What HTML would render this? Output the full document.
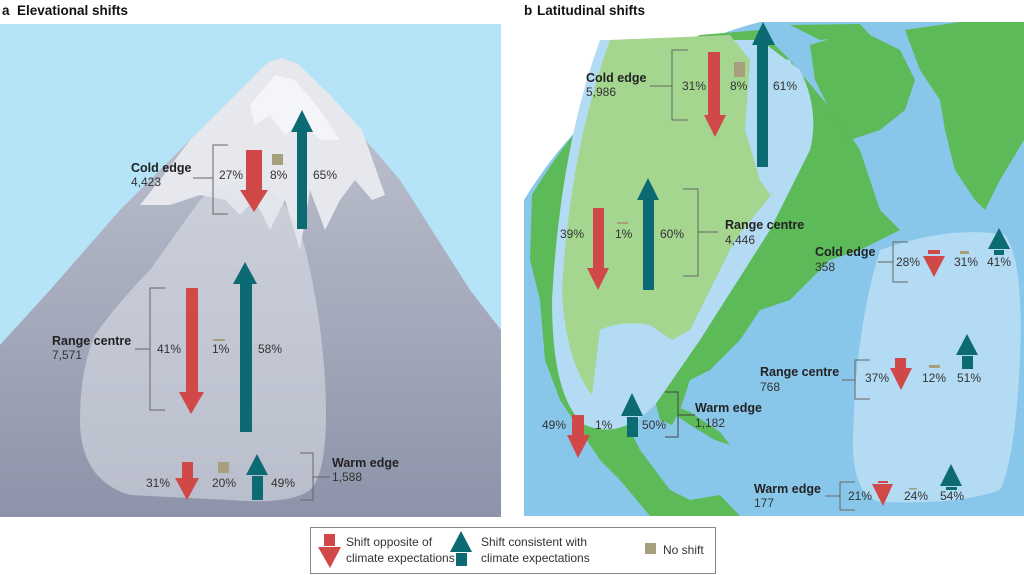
<!DOCTYPE html>
<html><head><meta charset="utf-8"><style>
html,body{margin:0;padding:0;background:#fff;width:1024px;height:575px;overflow:hidden}
svg{display:block}
text{font-family:"Liberation Sans",sans-serif;font-size:12px;fill:#333}
.b{font-weight:bold;fill:#222;font-size:12.5px}
.h{font-weight:bold;font-size:13.5px;fill:#111}
</style></head><body>
<svg width="1024" height="575" viewBox="0 0 1024 575" xmlns="http://www.w3.org/2000/svg">
<defs>
<linearGradient id="mg" x1="0" y1="0" x2="0" y2="1">
<stop offset="0" stop-color="#c2c6d2"/><stop offset="1" stop-color="#8d93a9"/></linearGradient>
<clipPath id="rc"><rect x="524" y="22" width="500" height="494"/></clipPath>
</defs>
<!-- Left panel -->
<text x="2" y="15" class="h">a</text><text x="17" y="15" class="h">Elevational shifts</text>
<rect x="0" y="24" width="501" height="493" fill="#b5e3f7"/>
<path d="M0,345 L50,290 L120,210 L190,140 L235,95 L268,62 L282,58 L298,64 L340,110 L400,180 L470,290 L501,330 L501,517 L0,517 Z" fill="url(#mg)"/>
<path d="M268,62 L282,58 L298,64 L330,95 L362,130 L385,195 L372,200 L355,180 L340,200 L325,230 L310,190 L300,250 L285,200 L270,230 L255,200 L240,215 L225,200 L200,195 L170,205 L140,205 L160,180 L190,140 L235,95 Z" fill="#e6e8ee"/>
<path d="M275,75 L295,80 L320,110 L340,140 L320,140 L300,120 L285,135 L270,115 L255,125 L250,105 Z" fill="#f4f5f8"/>
<path d="M95,335 Q120,300 150,270 L200,200 Q260,150 300,230 Q320,300 325,380 Q330,470 310,490 Q290,505 230,500 L130,495 Q80,480 80,420 Q80,370 95,335 Z" fill="#dfe2ea" opacity="0.55"/>
<!-- cold edge a -->
<text x="131" y="172" class="b">Cold edge</text><text x="131" y="186">4,423</text>
<path d="M193,178 H213 M228,145 H213 V214 H228" stroke="#666" fill="none"/>
<text x="219" y="179">27%</text>
<rect x="246" y="150" width="16" height="40" fill="#d04848"/><path d="M240,190 H268 L254,212 Z" fill="#d04848"/>
<rect x="272" y="154" width="11" height="11" fill="#a89f7e"/><text x="270" y="179">8%</text>
<path d="M291,132 L302,110 L313,132 Z" fill="#0c6a72"/><rect x="297" y="132" width="10" height="97" fill="#0c6a72"/>
<text x="313" y="179">65%</text>
<!-- range centre a -->
<text x="52" y="345" class="b">Range centre</text><text x="52" y="359">7,571</text>
<path d="M135,349 H150 M165,288 H150 V410 H165" stroke="#666" fill="none"/>
<text x="157" y="353">41%</text>
<rect x="186" y="288" width="12" height="104" fill="#d04848"/><path d="M179,392 H204 L191,414 Z" fill="#d04848"/>
<rect x="213" y="339" width="12" height="2" fill="#a89f7e"/><text x="212" y="353">1%</text>
<path d="M233,284 L245,262 L257,284 Z" fill="#0c6a72"/><rect x="240" y="284" width="12" height="148" fill="#0c6a72"/>
<text x="258" y="353">58%</text>
<!-- warm edge a -->
<rect x="182" y="462" width="11" height="16" fill="#d04848"/><path d="M175,478 H199 L187,500 Z" fill="#d04848"/>
<text x="146" y="487">31%</text>
<rect x="218" y="462" width="11" height="11" fill="#a89f7e"/><text x="212" y="487">20%</text>
<path d="M246,475 L257,454 L268,475 Z" fill="#0c6a72"/><rect x="252" y="476" width="11" height="24" fill="#0c6a72"/>
<text x="271" y="487">49%</text>
<path d="M300,453 H313 V500 H300 M313,477 H330" stroke="#666" fill="none"/>
<text x="332" y="467" class="b">Warm edge</text><text x="332" y="481">1,588</text>

<!-- Right panel -->
<text x="524" y="15" class="h">b</text><text x="537" y="15" class="h">Latitudinal shifts</text>
<g clip-path="url(#rc)">
<path d="M524,200 Q610,60 760,22 L1024,22 L1024,516 L524,516 Z" fill="#88c6ea"/>
<!-- North America -->
<path d="M532,195 Q600,80 700,35 L760,30 L790,60 L840,120 L860,150 L880,210 L900,230 L880,240 L860,250 L830,260 L790,300 L760,310 L740,340 L710,370 L690,380 L680,410 L672,425 L660,420 L655,400 L640,395 L625,405 L630,430 L640,450 L655,470 L670,490 L690,500 L700,516 L650,516 L620,480 L600,460 L580,430 L560,400 L545,360 L540,300 L530,260 Z" fill="#5cba58"/>
<path d="M810,45 L860,30 L900,50 L915,80 L905,110 L880,130 L850,140 L830,110 L815,80 Z" fill="#5cba58"/>
<path d="M790,25 L860,24 L870,35 L820,40 Z" fill="#5cba58"/>
<path d="M905,30 L960,22 L1024,22 L1024,140 L1000,180 L985,210 L975,200 L955,170 L945,130 L940,100 L920,70 Z" fill="#5cba58"/>
<path d="M665,402 L690,412 L720,432 L730,445 L715,440 L690,425 L668,410 Z" fill="#5cba58"/>
<path d="M660,516 L690,500 L720,495 L740,516 Z" fill="#5cba58"/>
<path d="M600,40 Q560,150 552,300 Q552,400 585,425 Q620,440 655,405 L700,340 L770,230 L810,150 Q820,110 800,70 L760,40 Z" fill="#b3dbf3"/>
<path d="M610,40 Q570,150 562,290 Q565,360 592,395 L600,330 Q620,320 650,325 L672,340 L690,330 L735,240 L775,190 L760,180 L745,130 L750,60 L730,35 Z" fill="#a4d690"/>
<path d="M760,55 L790,60 L810,110 L805,160 L770,195 L760,180 L752,110 Z" fill="#b3dbf3"/>
<path d="M880,250 Q950,225 1005,235 Q1024,260 1020,360 Q1015,460 1000,490 Q960,505 880,502 Q852,495 853,440 Q855,330 880,250 Z" fill="#b3dbf3"/>
</g>
<!-- cold edge b -->
<text x="586" y="82" class="b">Cold edge</text><text x="586" y="96">5,986</text>
<path d="M650,86 H672 M688,50 H672 V120 H688" stroke="#666" fill="none"/>
<text x="682" y="90">31%</text>
<rect x="708" y="52" width="12" height="63" fill="#d04848"/><path d="M704,115 H726 L715,137 Z" fill="#d04848"/>
<rect x="734" y="62" width="11" height="15" fill="#a89f7e"/><text x="730" y="90">8%</text>
<path d="M752,45 L763,22 L775,45 Z" fill="#0c6a72"/><rect x="757" y="45" width="11" height="122" fill="#0c6a72"/>
<text x="773" y="90">61%</text>
<!-- range centre b -->
<text x="560" y="238">39%</text>
<rect x="593" y="208" width="11" height="60" fill="#d04848"/><path d="M587,268 H609 L598,290 Z" fill="#d04848"/>
<rect x="617" y="222" width="11" height="2" fill="#a89f7e"/><text x="615" y="238">1%</text>
<path d="M637,200 L648,178 L659,200 Z" fill="#0c6a72"/><rect x="643" y="200" width="11" height="90" fill="#0c6a72"/>
<text x="660" y="238">60%</text>
<path d="M683,189 H698 V276 H683 M698,232 H718" stroke="#666" fill="none"/>
<text x="725" y="229" class="b">Range centre</text><text x="725" y="244">4,446</text>
<!-- cold edge atlantic -->
<text x="815" y="256" class="b">Cold edge</text><text x="815" y="271">358</text>
<path d="M878,262 H893 M908,242 H893 V282 H908" stroke="#666" fill="none"/>
<text x="896" y="266">28%</text>
<rect x="928" y="250" width="12" height="4" fill="#d04848"/><path d="M923,256 H945 L934,277 Z" fill="#d04848"/>
<rect x="960" y="251" width="9" height="3" fill="#a89f7e"/><text x="954" y="266">31%</text>
<path d="M988,249 L999,228 L1010,249 Z" fill="#0c6a72"/><rect x="994" y="250" width="10" height="5" fill="#0c6a72"/>
<text x="987" y="266">41%</text>
<!-- range centre atlantic -->
<text x="760" y="376" class="b">Range centre</text><text x="760" y="391">768</text>
<path d="M842,380 H855 M870,360 H855 V399 H870" stroke="#666" fill="none"/>
<text x="865" y="382">37%</text>
<rect x="895" y="358" width="11" height="10" fill="#d04848"/><path d="M890,368 H912 L901,390 Z" fill="#d04848"/>
<rect x="929" y="365" width="11" height="3" fill="#a89f7e"/><text x="922" y="382">12%</text>
<path d="M956,355 L967,334 L978,355 Z" fill="#0c6a72"/><rect x="962" y="356" width="11" height="13" fill="#0c6a72"/>
<text x="957" y="382">51%</text>
<!-- warm edge atlantic -->
<text x="754" y="493" class="b">Warm edge</text><text x="754" y="507">177</text>
<path d="M825,496 H840 M855,482 H840 V510 H855" stroke="#666" fill="none"/>
<text x="848" y="500">21%</text>
<rect x="878" y="481" width="10" height="2" fill="#d04848"/><path d="M872,484 H893 L883,506 Z" fill="#d04848"/>
<rect x="909" y="488" width="8" height="1.5" fill="#a89f7e"/><text x="904" y="500">24%</text>
<path d="M940,486 L951,464 L962,486 Z" fill="#0c6a72"/><rect x="946" y="487" width="11" height="3" fill="#0c6a72"/>
<text x="940" y="500">54%</text>
<!-- warm edge gulf -->
<text x="542" y="429">49%</text>
<rect x="572" y="415" width="12" height="20" fill="#d04848"/><path d="M567,435 H590 L578,458 Z" fill="#d04848"/>
<text x="595" y="429">1%</text>
<path d="M621,416 L632,393 L643,416 Z" fill="#0c6a72"/><rect x="627" y="417" width="11" height="20" fill="#0c6a72"/>
<text x="642" y="429">50%</text>
<path d="M665,392 H678 V437 H665 M678,415 H695" stroke="#444" fill="none"/>
<text x="695" y="412" class="b">Warm edge</text><text x="695" y="427">1,182</text>

<!-- Legend -->
<rect x="310.5" y="527.5" width="405" height="46" fill="#fff" stroke="#888"/>
<rect x="324" y="534" width="11" height="12" fill="#d04848"/><path d="M318,547 H341 L330,568 Z" fill="#d04848"/>
<text x="346" y="546">Shift opposite of</text><text x="346" y="562">climate expectations</text>
<path d="M450,552 L461,531 L472,552 Z" fill="#0c6a72"/><rect x="456" y="553" width="11" height="13" fill="#0c6a72"/>
<text x="481" y="546">Shift consistent with</text><text x="481" y="562">climate expectations</text>
<rect x="645" y="543" width="11" height="11" fill="#a89f7e"/><text x="663" y="554">No shift</text>
</svg>
</body></html>
